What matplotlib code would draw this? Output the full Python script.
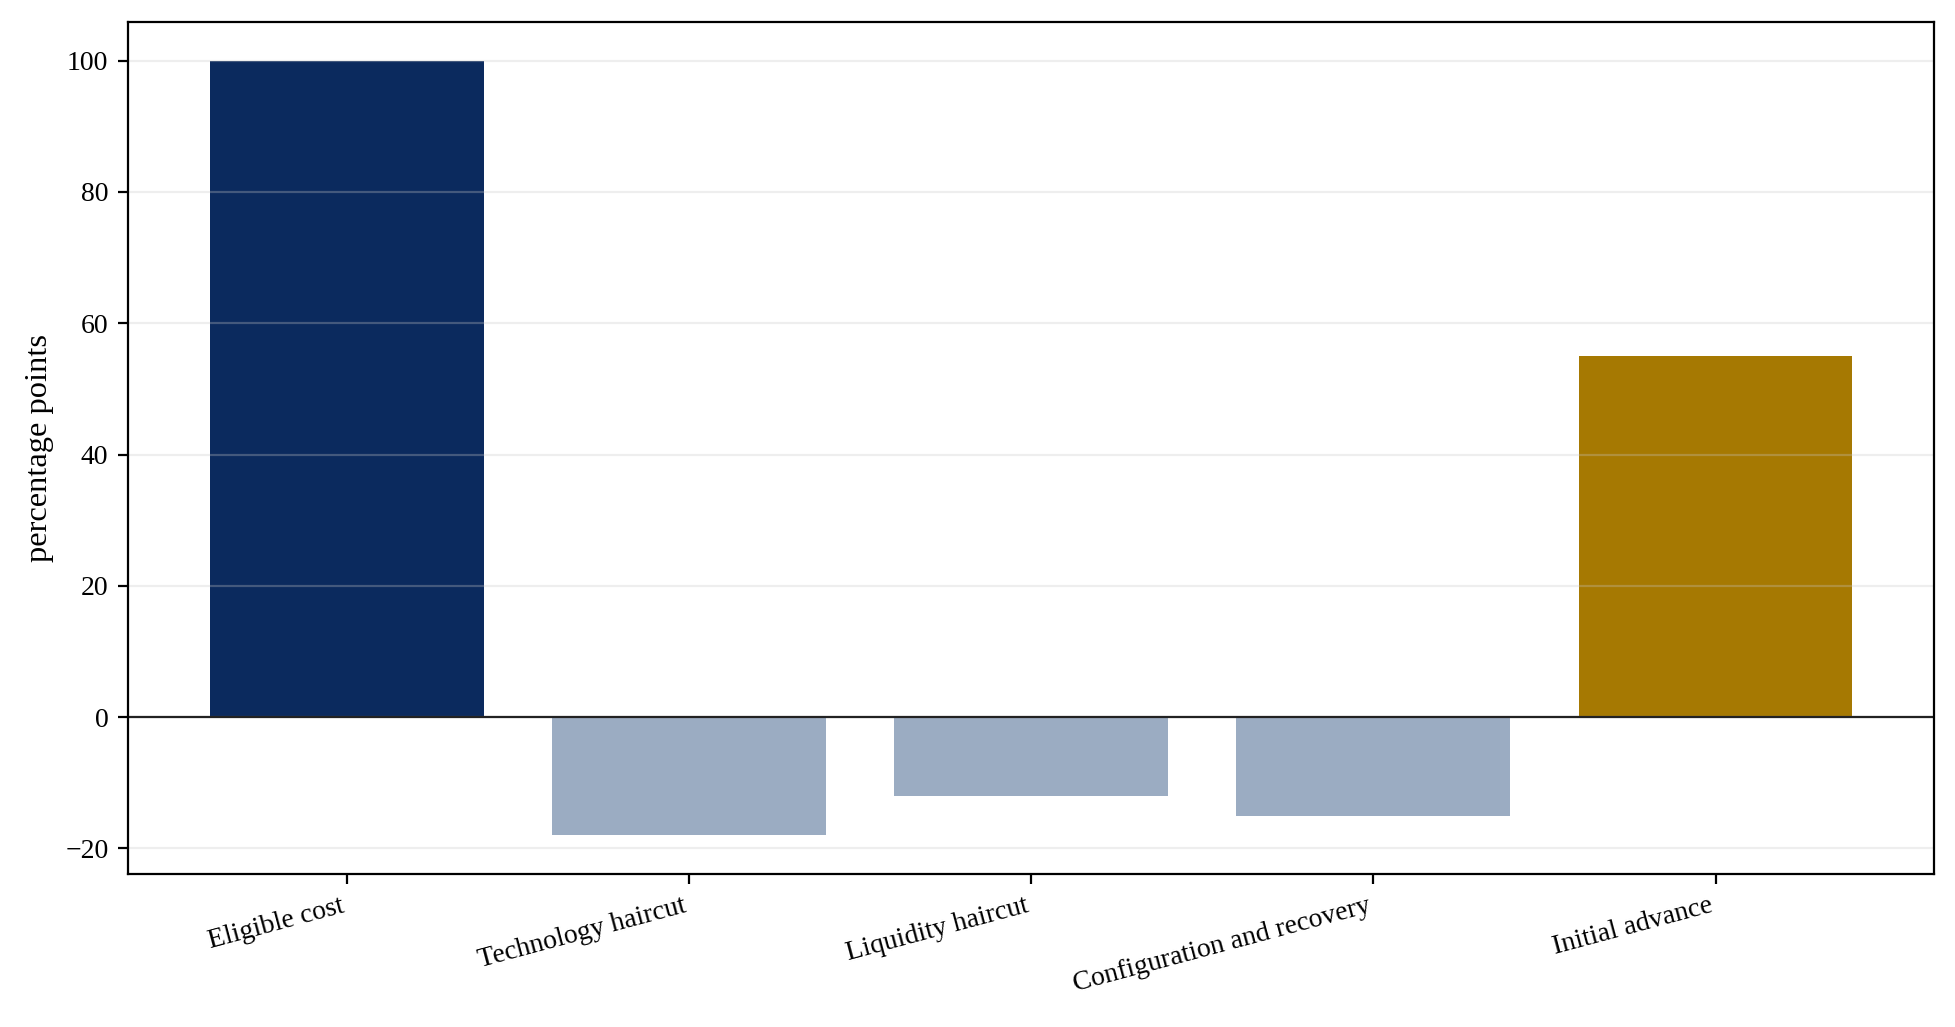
import matplotlib
matplotlib.use('Agg')
import matplotlib.pyplot as plt
import numpy as np

plt.rcParams['font.family'] = ['Liberation Serif', 'DejaVu Serif']
plt.rcParams['mathtext.fontset'] = 'stix'

steps = ['Eligible cost', 'Technology haircut', 'Liquidity haircut',
         'Configuration and recovery', 'Initial advance']
values = [100, -18, -12, -15, 55]
colors = ['#0b2a5e', '#9bacc2', '#9bacc2', '#9bacc2', '#a67902']

fig = plt.figure(figsize=(9.78, 5.135), dpi=200)
ax = fig.add_axes([0.0654, 0.149, 0.9236, 0.8296])

x = np.arange(len(steps))
ax.bar(x, values, width=0.8, color=colors)
ax.axhline(0, color='#222222', linewidth=0.8)
ax.yaxis.grid(True, color='#c8c8c8', linewidth=0.8, alpha=0.3)
ax.set_xticks(x)
ax.set_xticklabels(steps, rotation=15, ha='right')
ax.set_ylabel('percentage points', fontsize=11.7)
ax.tick_params(labelsize=10)

fig.savefig('out.png', dpi=200)
